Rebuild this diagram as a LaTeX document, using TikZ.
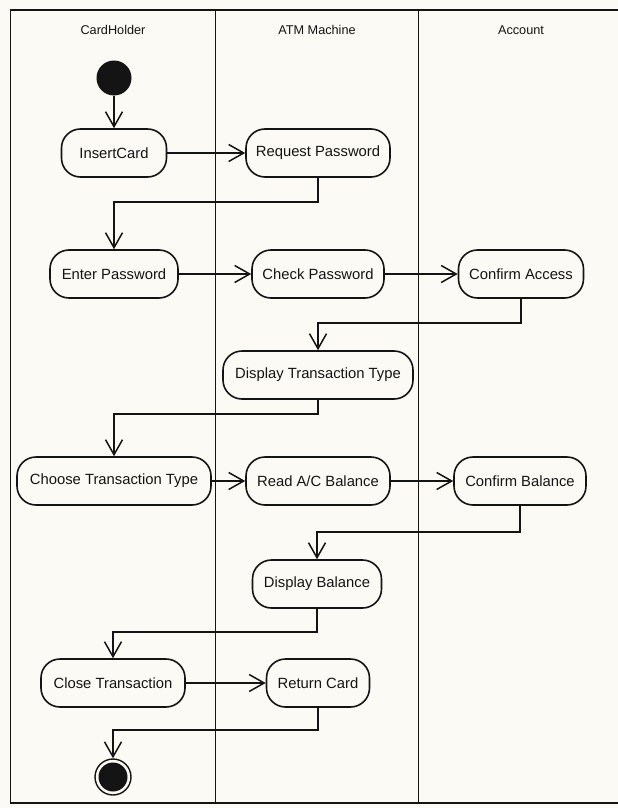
\documentclass[tikz,border=0pt]{standalone}
\usepackage{fontspec}
\setmainfont{Liberation Sans}
\usetikzlibrary{arrows.meta}
\definecolor{paper}{RGB}{251,250,245}
\definecolor{ink}{RGB}{20,20,20}
\begin{document}
\begin{tikzpicture}[x=1pt,y=-1pt,
  lane/.style={draw=ink, line width=1.9pt},
  act/.style={draw=ink, line width=1.6pt, rounded corners=19pt, minimum height=48pt,
    inner sep=0pt, font=\fontsize{14.8}{16}\selectfont, text=ink},
  head/.style={font=\fontsize{12.7}{14}\selectfont, text=ink},
  flow/.style={draw=ink, line width=1.5pt,
    -{Straight Barb[length=15pt,width=17pt,line width=1.5pt]}},
]
% page and swimlane frame
\fill[paper] (0,0) rectangle (618,808);
\useasboundingbox (0,0) rectangle (618,808);
\draw[lane] (630,10) -- (10.5,10) -- (10.5,803) -- (630,803);
\draw[lane] (215.5,10) -- (215.5,803);
\draw[lane] (418.5,10) -- (418.5,803);

% lane titles
\node[head] (hcard) at (113,30) {CardHolder};
\node[head] (hatm)  at (317,30) {ATM Machine};
\node[head] (hacc)  at (521,30) {Account};

% initial state
\node[circle, fill=ink, minimum size=35pt, inner sep=0pt] (start) at (114,78) {};

% activities
\node[act, minimum width=105pt] (insert)  at (114,153) {InsertCard};
\node[act, minimum width=144pt] (reqpw)   at (318,153) {Request Password};
\node[act, minimum width=128pt] (enterpw) at (114,274) {Enter Password};
\node[act, minimum width=132pt] (checkpw) at (318,274) {Check Password};
\node[act, minimum width=125pt] (confacc) at (521,274) {Confirm Access};
\node[act, minimum width=190pt] (disptt)  at (318,375) {Display Transaction Type};
\node[act, minimum width=194pt] (choose)  at (114,481) {Choose Transaction Type};
\node[act, minimum width=144pt] (readbal) at (318,481) {Read A/C Balance};
\node[act, minimum width=132pt] (confbal) at (520,481) {Confirm Balance};
\node[act, minimum width=129pt] (dispbal) at (317,584) {Display Balance};
\node[act, minimum width=144pt] (closetr) at (113,683) {Close Transaction};
\node[act, minimum width=103pt] (retcard) at (318,683) {Return Card};

% final state
\node[circle, draw=ink, line width=1.4pt, minimum size=36pt, inner sep=0pt] (stop) at (113,777) {};
\fill[ink] (stop.center) circle [radius=14.5pt];

% levels of the elbow connectors
\coordinate (k1) at (0,202);
\coordinate (k2) at (0,323);
\coordinate (k3) at (0,414);
\coordinate (k4) at (0,532);
\coordinate (k5) at (0,632);
\coordinate (k6) at (0,730);

% control flow
\draw[flow] (start) -- (insert);
\draw[flow] (insert) -- (reqpw);
\draw[flow] (reqpw.south) -- (reqpw.south |- k1) -| (enterpw.north);
\draw[flow] (enterpw) -- (checkpw);
\draw[flow] (checkpw) -- (confacc);
\draw[flow] (confacc.south) -- (confacc.south |- k2) -| (disptt.north);
\draw[flow] (disptt.south) -- (disptt.south |- k3) -| (choose.north);
\draw[flow] (choose) -- (readbal);
\draw[flow] (readbal) -- (confbal);
\draw[flow] (confbal.south) -- (confbal.south |- k4) -| (dispbal.north);
\draw[flow] (dispbal.south) -- (dispbal.south |- k5) -| (closetr.north);
\draw[flow] (closetr) -- (retcard);
\draw[flow] (retcard.south) -- (retcard.south |- k6) -| (stop.north);
\end{tikzpicture}
\end{document}
